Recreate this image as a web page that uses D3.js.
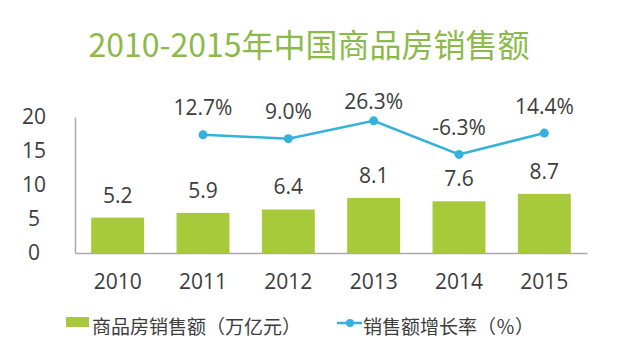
<!DOCTYPE html>
<html><head><meta charset="utf-8">
<script src="https://cdn.jsdelivr.net/npm/d3@7"></script>
<style>
html,body{margin:0;padding:0;background:#fff;}
svg{display:block;font-family:"Noto Sans CJK SC","Noto Sans",sans-serif;}
</style></head>
<body><svg id="c" width="632" height="356"></svg>
<script>
const years = ["2010","2011","2012","2013","2014","2015"];
const sales = [5.2, 5.9, 6.4, 8.1, 7.6, 8.7];
const growthYears = ["2011","2012","2013","2014","2015"];
const growth = [12.7, 9.0, 26.3, -6.3, 14.4];
const yTicks = [0, 5, 10, 15, 20];
const title = "2010-2015年中国商品房销售额";
const legendLabels = ["商品房销售额（万亿元）", "销售额增长率（％）"];

const svg = d3.select("#c");
const barColor = "#a8c93a", lineColor = "#35b2dc", textColor = "#3c3c3c";
const numFont = "'Open Sans','Noto Sans',sans-serif";

const x = d3.scaleBand().domain(years).range([75, 587]).paddingInner(0.38).paddingOuter(0.19);
const y = d3.scaleLinear().domain([0, 20]).range([253, 117]);
const y2 = d3.scaleLinear().domain([-102, 30]).range([253, 117]);

svg.append("text").attr("x", 309).attr("y", 57).attr("text-anchor", "middle")
  .attr("font-size", 32).attr("fill", "#8cba4a").text(title);

// y axis
const yAxis = d3.axisLeft(y).tickValues(yTicks).tickSize(0).tickPadding(41);
const gy = svg.append("g").attr("transform", "translate(75,0)").call(yAxis);
gy.select(".domain").attr("stroke", "#aaa").attr("stroke-width", 1.5);
gy.selectAll("text").attr("font-size", 21).attr("fill", textColor)
  .attr("font-family", numFont).attr("text-anchor", "middle");

// x axis
const xAxis = d3.axisBottom(x).tickSize(0).tickPadding(21);
const gx = svg.append("g").attr("transform", "translate(0,253)").call(xAxis);
gx.select(".domain").attr("stroke", "#aaa").attr("stroke-width", 1.5);
gx.selectAll("text").attr("font-size", 21).attr("fill", textColor)
  .attr("font-family", numFont);

// bars
svg.append("g").selectAll("rect").data(sales).join("rect")
  .attr("x", (d, i) => x(years[i])).attr("width", x.bandwidth())
  .attr("y", d => y(d)).attr("height", d => y(0) - y(d)).attr("fill", barColor);
svg.append("g").selectAll("text").data(sales).join("text")
  .attr("x", (d, i) => x(years[i]) + x.bandwidth() / 2)
  .attr("y", d => y(d) - 15).attr("text-anchor", "middle")
  .attr("font-size", 21).attr("fill", textColor)
  .attr("font-family", numFont)
  .text(d => d.toFixed(1));

// line
const cx = (i) => x(growthYears[i]) + x.bandwidth() / 2;
const line = d3.line().x((d, i) => cx(i)).y(d => y2(d));
svg.append("path").datum(growth).attr("d", line).attr("fill", "none")
  .attr("stroke", lineColor).attr("stroke-width", 2.5);
svg.append("g").selectAll("circle").data(growth).join("circle")
  .attr("cx", (d, i) => cx(i)).attr("cy", d => y2(d)).attr("r", 4.5).attr("fill", lineColor);
svg.append("g").selectAll("text").data(growth).join("text")
  .attr("x", (d, i) => cx(i)).attr("y", d => Math.max(y2(d) - 19.5, 109))
  .attr("text-anchor", "middle").attr("font-size", 21).attr("fill", textColor)
  .attr("font-family", numFont)
  .text(d => d.toFixed(1) + "%");

// legend
const lg = svg.append("g");
lg.append("rect").attr("x", 66).attr("y", 317).attr("width", 23).attr("height", 10).attr("fill", barColor);
lg.append("text").attr("x", 92).attr("y", 334).attr("font-size", 19).attr("fill", textColor).text(legendLabels[0]);
lg.append("line").attr("x1", 337).attr("x2", 362).attr("y1", 323).attr("y2", 323)
  .attr("stroke", lineColor).attr("stroke-width", 2.5);
lg.append("circle").attr("cx", 350).attr("cy", 323).attr("r", 4).attr("fill", lineColor);
lg.append("text").attr("x", 363).attr("y", 334).attr("font-size", 19).attr("fill", textColor).text(legendLabels[1]);
</script></body></html>
